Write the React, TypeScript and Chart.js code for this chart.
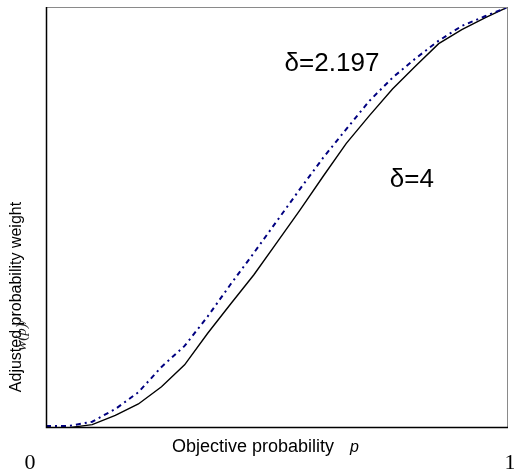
import React, { useEffect, useRef } from "react";
import { Chart, registerables } from "chart.js";

Chart.register(...registerables);

const pValues = [0, 0.05, 0.1, 0.15, 0.2, 0.25, 0.3, 0.35, 0.4, 0.45, 0.5, 0.55, 0.6, 0.65, 0.7, 0.75, 0.8, 0.85, 0.9, 0.95, 1];
const weightDelta4 = [0, 0.001, 0.008, 0.03, 0.057, 0.098, 0.15, 0.225, 0.295, 0.364, 0.441, 0.518, 0.598, 0.676, 0.742, 0.805, 0.86, 0.913, 0.946, 0.974, 1];
const weightDelta2197 = [0.005, 0.005, 0.015, 0.045, 0.085, 0.145, 0.195, 0.265, 0.342, 0.416, 0.492, 0.568, 0.642, 0.71, 0.777, 0.832, 0.878, 0.92, 0.955, 0.978, 1];

const labelDelta2197 = "δ=2.197";
const labelDelta4 = "δ=4";
const xTitle = "Objective probability";
const yTitle = "Adjusted probability weight";
const yOverlay = "w(p)/";
const xTickLabels = ["0", "1"];

export default function App() {
  const canvasRef = useRef<HTMLCanvasElement | null>(null);

  useEffect(() => {
    document.body.style.margin = "0";
    const canvas = canvasRef.current;
    if (!canvas) return;

    const textPlugin = {
      id: "texts",
      afterDraw(chart: any) {
        const ctx = chart.ctx as CanvasRenderingContext2D;
        const a = chart.chartArea;
        ctx.save();
        // frame
        ctx.lineWidth = 1;
        ctx.strokeStyle = "#8a8a8a";
        ctx.beginPath();
        ctx.moveTo(a.left, a.top + 0.5);
        ctx.lineTo(a.right - 0.5, a.top + 0.5);
        ctx.lineTo(a.right - 0.5, a.bottom);
        ctx.stroke();
        ctx.strokeStyle = "#000";
        ctx.lineWidth = 1.5;
        ctx.beginPath();
        ctx.moveTo(a.left + 0.5, a.top);
        ctx.lineTo(a.left + 0.5, a.bottom - 0.5);
        ctx.lineTo(a.right, a.bottom - 0.5);
        ctx.stroke();

        ctx.fillStyle = "#000";
        ctx.textBaseline = "alphabetic";
        ctx.textAlign = "center";
        ctx.font = "26px 'Liberation Sans', Arial, sans-serif";
        const xs = chart.scales.x;
        const ys = chart.scales.y;
        ctx.fillText(labelDelta2197, xs.getPixelForValue(0.619), ys.getPixelForValue(0.848));
        ctx.fillText(labelDelta4, xs.getPixelForValue(0.792), ys.getPixelForValue(0.572));

        ctx.textAlign = "left";
        ctx.font = "18px 'Liberation Sans', Arial, sans-serif";
        ctx.fillText(xTitle, 172, 452);
        ctx.font = "italic 16px 'Liberation Sans', Arial, sans-serif";
        ctx.fillText("p", 350, 452);

        ctx.font = "22px 'Liberation Serif', 'Times New Roman', serif";
        ctx.textAlign = "center";
        ctx.fillText(xTickLabels[0], 30, 469);
        ctx.fillText(xTickLabels[1], 510, 469);

        ctx.save();
        ctx.translate(21, 297);
        ctx.rotate(-Math.PI / 2);
        ctx.font = "16px 'Liberation Sans', Arial, sans-serif";
        ctx.fillText(yTitle, 0, 0);
        ctx.restore();

        ctx.save();
        ctx.translate(26, 335);
        ctx.rotate(-Math.PI / 2);
        ctx.font = "italic 15px 'Liberation Serif', 'Times New Roman', serif";
        ctx.fillStyle = "#222";
        ctx.fillText(yOverlay, 0, 0);
        ctx.restore();

        ctx.restore();
      },
    };

    const chart = new Chart(canvas, {
      type: "line",
      data: {
        datasets: [
          {
            label: labelDelta2197,
            data: pValues.map((p, i) => ({ x: p, y: weightDelta2197[i] })),
            borderColor: "#000080",
            borderWidth: 2,
            borderDash: [5, 4, 2, 4],
            pointRadius: 0,
            tension: 0,
            fill: false,
          },
          {
            label: labelDelta4,
            data: pValues.map((p, i) => ({ x: p, y: weightDelta4[i] })),
            borderColor: "#000000",
            borderWidth: 1.4,
            pointRadius: 0,
            tension: 0,
            fill: false,
          },
        ],
      },
      options: {
        animation: false,
        responsive: false,
        maintainAspectRatio: false,
        layout: { padding: { left: 46, top: 7, right: 6, bottom: 48 } },
        plugins: {
          legend: { display: false },
          tooltip: { enabled: false },
        },
        scales: {
          x: { type: "linear", min: 0, max: 1, display: false },
          y: { type: "linear", min: 0, max: 1, display: false },
        },
      },
      plugins: [textPlugin],
    });

    return () => chart.destroy();
  }, []);

  return (
    <div style={{ width: 514, height: 476, background: "#fff" }}>
      <canvas ref={canvasRef} width={514} height={476} style={{ display: "block" }} />
    </div>
  );
}
